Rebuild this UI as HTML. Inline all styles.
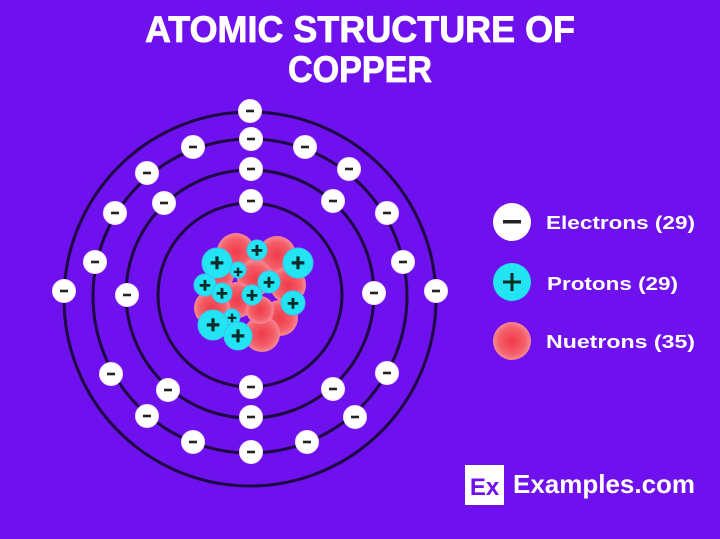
<!DOCTYPE html>
<html><head><meta charset="utf-8"><style>
html,body{margin:0;padding:0;background:#6f10ee;}
svg{display:block;}
text{font-family:"Liberation Sans",sans-serif;font-weight:bold;}
</style></head><body>
<svg width="720" height="539" viewBox="0 0 720 539" xmlns="http://www.w3.org/2000/svg">
<defs>
<radialGradient id="rg" cx="50%" cy="50%" r="50%">
<stop offset="0" stop-color="#f03a4a"/><stop offset="0.7" stop-color="#f4606a"/><stop offset="1" stop-color="#f58a95"/>
</radialGradient>
<g id="e"><circle r="11.5" fill="#fff" stroke="#f4e4ff" stroke-width="1"/><rect x="-4" y="-1.3" width="8" height="2.6" fill="#222"/></g>
</defs>
<rect width="720" height="539" fill="#6f10ee"/>
<text x="360" y="42" font-size="37" fill="#fff" text-anchor="middle" textLength="430" lengthAdjust="spacingAndGlyphs" stroke="#fff" stroke-width="0.8">ATOMIC STRUCTURE OF</text>
<text x="360" y="82" font-size="37" fill="#fff" text-anchor="middle" textLength="144" lengthAdjust="spacingAndGlyphs" stroke="#fff" stroke-width="0.8">COPPER</text>
<g fill="none" stroke="#1c0a40" stroke-width="3">
<ellipse cx="250" cy="299" rx="186" ry="187"/>
<circle cx="250" cy="296" r="157"/>
<circle cx="250" cy="294" r="124"/>
<circle cx="250" cy="295" r="92"/>
</g>
<g>
<circle cx="236" cy="252" r="19" fill="url(#rg)"/>
<circle cx="277" cy="255" r="19" fill="url(#rg)"/>
<circle cx="288" cy="285" r="18" fill="url(#rg)"/>
<circle cx="255" cy="278" r="18" fill="url(#rg)"/>
<circle cx="237" cy="300" r="18" fill="url(#rg)"/>
<circle cx="212" cy="308" r="18" fill="url(#rg)"/>
<circle cx="280" cy="318" r="18" fill="url(#rg)"/>
<circle cx="262" cy="334" r="18" fill="url(#rg)"/>
<circle cx="220" cy="275" r="14" fill="url(#rg)"/>
<circle cx="260" cy="310" r="14" fill="url(#rg)"/>
</g>
<g fill="#22e4f2" stroke="#38c4f0" stroke-width="1">
<circle cx="257" cy="250" r="10"/>
<circle cx="238" cy="270" r="8"/>
<circle cx="205" cy="285" r="11"/>
<circle cx="222" cy="293" r="10"/>
<circle cx="269" cy="282" r="11"/>
<circle cx="252" cy="295" r="10"/>
<circle cx="293" cy="303" r="12"/>
<circle cx="232" cy="317" r="8"/>
<circle cx="217" cy="263" r="15"/>
<circle cx="298" cy="263" r="15"/>
<circle cx="213" cy="325" r="15"/>
<circle cx="238" cy="336" r="14"/>
</g>
<g fill="#0c2a2a" font-size="20" text-anchor="middle" stroke="#0c2a2a" stroke-width="0.6">
<text x="257" y="257">+</text><text x="238" y="277" font-size="16">+</text>
<text x="205" y="292">+</text><text x="222" y="300">+</text>
<text x="269" y="289">+</text><text x="252" y="302">+</text>
<text x="293" y="310">+</text><text x="232" y="323" font-size="16">+</text>
<text x="217" y="271" font-size="24">+</text><text x="298" y="271" font-size="24">+</text>
<text x="213" y="333" font-size="24">+</text><text x="238" y="344" font-size="24">+</text>
</g>
<use href="#e" x="250" y="111"/><use href="#e" x="251" y="139"/><use href="#e" x="251" y="169"/><use href="#e" x="251" y="201"/>
<use href="#e" x="193" y="147"/><use href="#e" x="305" y="147"/><use href="#e" x="147" y="173"/><use href="#e" x="349" y="169"/>
<use href="#e" x="164" y="203"/><use href="#e" x="333" y="201"/><use href="#e" x="115" y="213"/><use href="#e" x="387" y="213"/>
<use href="#e" x="95" y="262"/><use href="#e" x="403" y="262"/><use href="#e" x="64" y="291"/><use href="#e" x="436" y="291"/>
<use href="#e" x="127" y="295"/><use href="#e" x="374" y="293"/><use href="#e" x="111" y="374"/><use href="#e" x="387" y="373"/>
<use href="#e" x="168" y="390"/><use href="#e" x="333" y="389"/><use href="#e" x="251" y="387"/><use href="#e" x="251" y="417"/>
<use href="#e" x="147" y="416"/><use href="#e" x="355" y="417"/><use href="#e" x="193" y="442"/><use href="#e" x="307" y="442"/>
<use href="#e" x="251" y="452"/>
<circle cx="512" cy="222" r="19" fill="#fff"/><rect x="503" y="220" width="18" height="3.5" fill="#222"/>
<circle cx="512" cy="282" r="19" fill="#22e4f2"/><rect x="503" y="280.5" width="18" height="3" fill="#0c2a2a"/><rect x="510.5" y="273" width="3" height="18" fill="#0c2a2a"/>
<circle cx="512" cy="341" r="19" fill="url(#rg)"/>
<g fill="#fff" font-size="18">
<text x="546" y="229" textLength="149" lengthAdjust="spacingAndGlyphs">Electrons (29)</text>
<text x="547" y="290" textLength="131" lengthAdjust="spacingAndGlyphs">Protons (29)</text>
<text x="546" y="348" textLength="149" lengthAdjust="spacingAndGlyphs">Nuetrons (35)</text>
</g>
<rect x="465" y="465" width="39" height="40" fill="#fff"/>
<text x="484.5" y="495" font-size="24" fill="#6f10ee" text-anchor="middle">Ex</text>
<text x="513" y="493" font-size="26" fill="#fff" textLength="182" lengthAdjust="spacingAndGlyphs">Examples.com</text>
</svg>
</body></html>
